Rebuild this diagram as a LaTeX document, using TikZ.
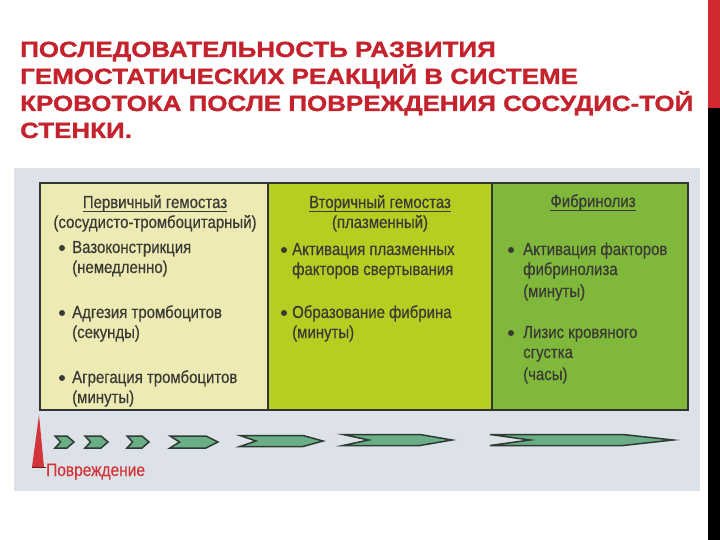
\documentclass[tikz,border=0pt]{standalone}
\usepackage{fontspec}
\setmainfont{Liberation Sans}
\newfontfamily\condf[FakeStretch=0.86,FakeBold=0.4]{Liberation Sans}
\newfontfamily\titlef[FakeStretch=1.18,FakeBold=1.2]{Liberation Sans Bold}
\definecolor{titlered}{HTML}{C4222C}
\definecolor{barred}{HTML}{D12A2E}
\definecolor{bgblue}{HTML}{DDE2E8}
\definecolor{pone}{HTML}{EEEAB3}
\definecolor{ptwo}{HTML}{B6CD22}
\definecolor{pthree}{HTML}{80B83C}
\definecolor{txt}{HTML}{3A3A34}
\definecolor{arrgreen}{HTML}{6AAE86}
\definecolor{arrdark}{HTML}{2E3A33}
\definecolor{injred}{HTML}{D3343A}
\tikzset{
  ttl/.style={anchor=base west, inner sep=0pt, text=titlered, font=\titlef\fontsize{22}{22}\selectfont},
  ptxt/.style={anchor=base west, inner sep=0pt, text=txt, font=\condf\fontsize{17.4}{17.4}\selectfont},
  phead/.style={anchor=base, inner sep=0pt, text=txt, font=\condf\fontsize{17.4}{17.4}\selectfont},
  uline/.style={draw=txt, line width=0.9pt},
  panel/.style={draw=black!80, line width=1.4pt},
  bul/.style={fill=txt, draw=none, circle, inner sep=0pt, minimum size=6pt},
  chevron/.style={fill=arrgreen, draw=arrdark, line width=1.5pt, line join=miter}
}
\newcommand\chevarrow[5]{% x0, x1, y, half height, tip length
  \filldraw[chevron] (#1,#3-#4) -- (#2-#5,#3-#4) -- (#2,#3) -- (#2-#5,#3+#4) -- (#1,#3+#4) -- (#1+#5*0.8,#3) -- cycle;
}
\begin{document}
\begin{tikzpicture}[x=1pt,y=-1pt]
\useasboundingbox (0,0) rectangle (720,540);
\fill[white] (0,0) rectangle (720,540);
% right bar
\fill[barred] (708,0) rectangle (720,108);
\fill[black] (708,108) rectangle (720,540);
% title
\node[ttl] (t1) at (20,57) {ПОСЛЕДОВАТЕЛЬНОСТЬ РАЗВИТИЯ};
\node[ttl] (t2) at (20,84) {ГЕМОСТАТИЧЕСКИХ РЕАКЦИЙ В СИСТЕМЕ};
\node[ttl] (t3) at (20,111) {КРОВОТОКА ПОСЛЕ ПОВРЕЖДЕНИЯ СОСУДИС-ТОЙ};
\node[ttl] (t4) at (20,138) {СТЕНКИ.};
% background of figure
\fill[bgblue] (14,168) rectangle (700,491);
% panels
\fill[pone] (40,183) rectangle (268,410);
\fill[ptwo] (268,183) rectangle (492,410);
\fill[pthree] (492,183) rectangle (688,410);
\draw[panel] (40,183) rectangle (688,410);
\draw[panel] (268,183) -- (268,410);
\draw[panel] (492,183) -- (492,410);
% panel 1
\node[phead] (h1) at (155,208) {Первичный гемостаз};
\draw[uline] ([yshift=-3pt]h1.base west) -- ([yshift=-3pt]h1.base east);
\node[phead] (h1b) at (155,228) {(сосудисто-тромбоцитарный)};
\node[bul] (b11) at (62,248) {};
\node[ptxt] (a11) at (72,253) {Вазоконстрикция};
\node[ptxt] (a12) at (72,273) {(немедленно)};
\node[bul] (b12) at (62,313) {};
\node[ptxt] (a21) at (72,318) {Адгезия тромбоцитов};
\node[ptxt] (a22) at (72,338) {(секунды)};
\node[bul] (b13) at (62,378) {};
\node[ptxt] (a31) at (72,383) {Агрегация тромбоцитов};
\node[ptxt] (a32) at (72,403) {(минуты)};
% panel 2
\node[phead] (h2) at (380,208) {Вторичный гемостаз};
\draw[uline] ([yshift=-3pt]h2.base west) -- ([yshift=-3pt]h2.base east);
\node[phead] (h2b) at (380,228) {(плазменный)};
\node[bul] (b21) at (284,250) {};
\node[ptxt] (c11) at (292,255) {Активация плазменных};
\node[ptxt] (c12) at (292,275) {факторов свертывания};
\node[bul] (b22) at (284,313) {};
\node[ptxt] (c21) at (292,318) {Образование фибрина};
\node[ptxt] (c22) at (292,338) {(минуты)};
% panel 3
\node[phead] (h3) at (593,207) {Фибринолиз};
\draw[uline] ([yshift=-3pt]h3.base west) -- ([yshift=-3pt]h3.base east);
\node[bul] (b31) at (511,250) {};
\node[ptxt] (d11) at (523,255) {Активация факторов};
\node[ptxt] (d12) at (523,275) {фибринолиза};
\node[ptxt] (d13) at (523,297) {(минуты)};
\node[bul] (b32) at (511,333) {};
\node[ptxt] (d21) at (523,338) {Лизис кровяного};
\node[ptxt] (d22) at (523,358) {сгустка};
\node[ptxt] (d23) at (523,380) {(часы)};
% arrows
\chevarrow{55}{74}{442}{6}{7}
\chevarrow{85}{108}{442}{6}{7}
\chevarrow{127}{149}{442}{6}{7}
\chevarrow{170}{218}{442}{6}{12}
\chevarrow{240}{323}{441}{5.5}{20}
\chevarrow{343}{452}{440}{5.5}{32}
\chevarrow{490}{673}{440}{5.5}{50}
% injury marker
\fill[injred] (39,415) -- (44,467) -- (32,467) -- cycle;
\draw[injred!50!black, line width=1pt] (32,467) -- (46,467);
\node[anchor=base west, inner sep=0pt, text=injred, font=\condf\fontsize{18}{18}\selectfont] (inj) at (46,476) {Повреждение};
\end{tikzpicture}
\end{document}
